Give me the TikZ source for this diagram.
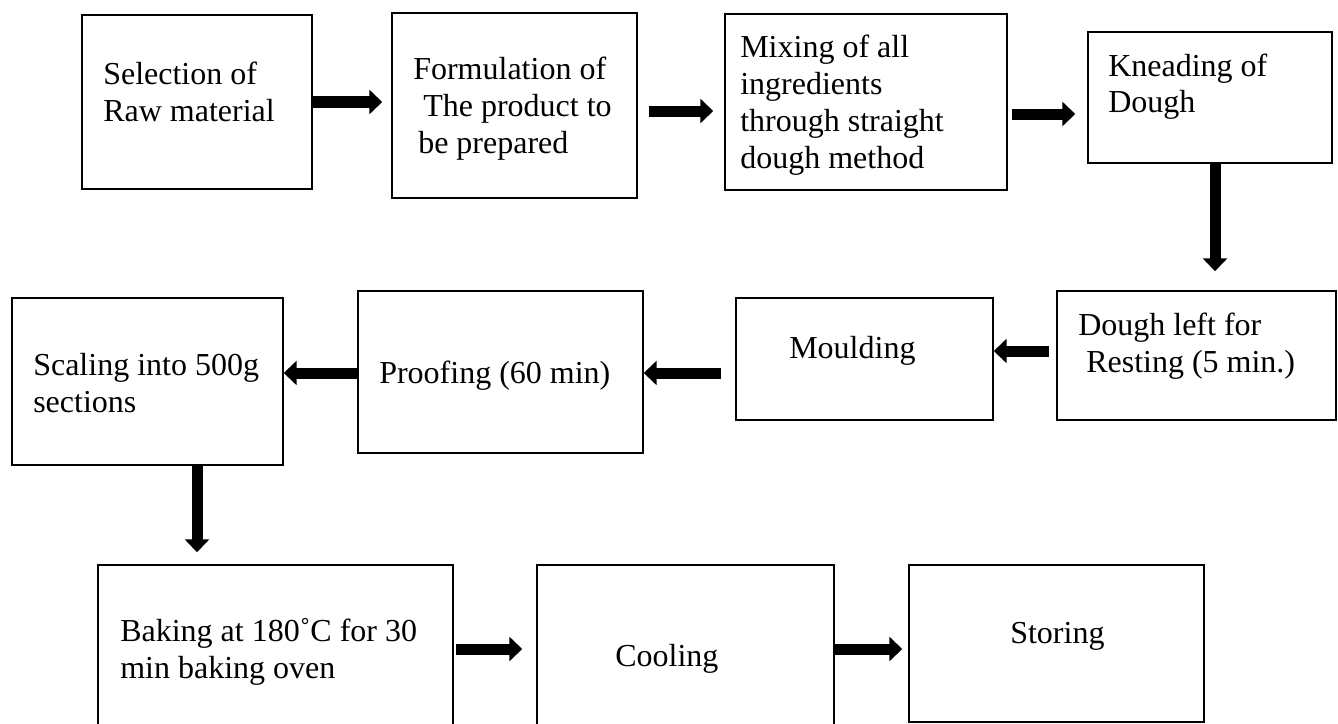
\documentclass[tikz,border=0pt]{standalone}
\usepackage{fontspec}
\setmainfont{Liberation Serif}
\usetikzlibrary{arrows.meta,calc,fit}
\begin{document}
\begin{tikzpicture}[x=0.75pt,y=-0.75pt,
  box/.style={draw, line width=1.1pt, inner sep=0pt, rectangle},
  txt/.style={anchor=base west, inner sep=0pt, align=left, font=\fontsize{24}{27.75}\selectfont},
  fat/.style={line width=8.25pt, -{Triangle[width=18pt,length=9.75pt]}}]
\useasboundingbox (0,0) rectangle (1338,724);
% boxes
\node[box, fit={(82,15)(312,189)}] (b1) {};
\node[box, fit={(392,13)(637,198)}] (b2) {};
\node[box, fit={(725,14)(1007,190)}] (b3) {};
\node[box, fit={(1088,32)(1332,163)}] (b4) {};
\node[box, fit={(1057,291)(1336,420)}] (b5) {};
\node[box, fit={(736,298)(993,420)}] (b6) {};
\node[box, fit={(358,291)(643,453)}] (b7) {};
\node[box, fit={(12,298)(283,465)}] (b8) {};
\node[box, fit={(98,565)(453,740)}] (b9) {};
\node[box, fit={(537,565)(834,740)}] (b10) {};
\node[box, fit={(909,565)(1204,722)}] (b11) {};
% texts (base anchor = baseline of the last line)
\node[txt] (t1) at (103,121) {Selection of\\Raw material};
\node[txt] (t2) at (413,153) {Formulation of\\\hspace*{7.5pt}The product to\\\hspace*{3.75pt}be prepared};
\node[txt] (t3) at (740,168) {Mixing of all\\ingredients\\through straight\\dough method};
\node[txt] (t4) at (1108,113) {Kneading of\\Dough};
\node[txt] (t5) at (1078,372) {Dough left for\\\hspace*{6pt}Resting (5 min.)};
\node[txt] (t6) at (789,358) {Moulding};
\node[txt] (t7) at (379,383) {Proofing (60 min)};
\node[txt] (t8) at (33,412) {Scaling into 500g\\sections};
\node[txt] (t9) at (120,678) {Baking at 180˚C for 30\\min baking oven};
\node[txt] (t10) at (615,666) {Cooling};
\node[txt] (t11) at (1010,643) {Storing};
% arrows
\draw[fat] (b1.east) -- ($(b2.west |- b1.east)+(-9,0)$);
\draw[fat] ($(b2.east)+(11,5.5)$) -- ($(b3.west)+(-11,9)$);
\draw[fat] ($(b3.east)+(4,12)$) -- ($(b4.west)+(-12,16.5)$);
\draw[fat] ($(b4.south)+(5,0)$) -- ($(b5.north)+(18.5,-19)$);
\draw[fat] ($(b5.west)+(-7,-4.5)$) -- ($(b6.east)+(0,-8)$);
\draw[fat] ($(b6.west)+(-14,14)$) -- ($(b7.east)+(0,1)$);
\draw[fat] ($(b7.west)+(0,1)$) -- ($(b8.east)+(0,-8.5)$);
\draw[fat] ($(b8.south)+(49.5,0)$) -- ($(b9.north)+(-78.5,-12)$);
\draw[fat] ($(b9.east)+(2,-3.5)$) -- ($(b10.west)+(-14,-3.5)$);
\draw[fat] ($(b10.east)+(0,-3.5)$) -- ($(b11.west)+(-6,5.5)$);
\end{tikzpicture}
\end{document}
